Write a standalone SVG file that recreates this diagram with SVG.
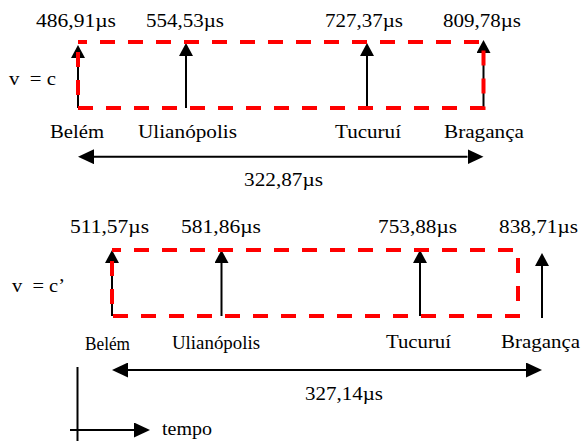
<svg xmlns="http://www.w3.org/2000/svg" width="582" height="441" viewBox="0 0 582 441">
  <defs>
    <style>
      text { font-family: "Liberation Serif", "Times New Roman", serif; font-size: 18px; fill: #000; }
      .shaft { stroke: #000; stroke-width: 2; fill: none; }
      .up { marker-end: url(#headV); }
      .span { marker-start: url(#headH); marker-end: url(#headH); }
      .axis { stroke: #000; stroke-width: 2; fill: none; }
      .frame { fill: none; stroke: #ff0000; stroke-width: 4; stroke-dasharray: 15 13; }
    </style>
    <marker id="headV" viewBox="0 0 13 14" markerWidth="13" markerHeight="14" refX="0" refY="7" orient="auto" markerUnits="userSpaceOnUse">
      <path d="M0,0 L13,7 L0,14 z" fill="#000"/>
    </marker>
    <marker id="headH" viewBox="0 0 16 15" markerWidth="16" markerHeight="15" refX="0" refY="7.5" orient="auto-start-reverse" markerUnits="userSpaceOnUse">
      <path d="M0,0 L16,7.5 L0,15 z" fill="#000"/>
    </marker>
  </defs>

  <rect width="582" height="441" fill="#fff"/>

  <!-- v = c -->
  <g id="speed-c">
    <text x="9" y="85" xml:space="preserve" textLength="47" lengthAdjust="spacingAndGlyphs">v  = c</text>
  </g>
  <g id="c-belem">
    <line class="shaft up" x1="78" y1="108" x2="78" y2="58"/>
    <text x="36" y="27" textLength="80" lengthAdjust="spacingAndGlyphs">486,91µs</text>
    <text x="50" y="138" textLength="54" lengthAdjust="spacingAndGlyphs">Belém</text>
  </g>
  <g id="c-ulianopolis">
    <line class="shaft up" x1="186" y1="108" x2="186" y2="56"/>
    <text x="146" y="27" textLength="78" lengthAdjust="spacingAndGlyphs">554,53µs</text>
    <text x="138" y="138" textLength="99" lengthAdjust="spacingAndGlyphs">Ulianópolis</text>
  </g>
  <g id="c-tucurui">
    <line class="shaft up" x1="367" y1="108" x2="367" y2="56"/>
    <text x="325" y="27" textLength="78" lengthAdjust="spacingAndGlyphs">727,37µs</text>
    <text x="335" y="138" textLength="66" lengthAdjust="spacingAndGlyphs">Tucuruí</text>
  </g>
  <g id="c-braganca">
    <line class="shaft up" x1="483.5" y1="108" x2="483.5" y2="53"/>
    <text x="443" y="27" textLength="78" lengthAdjust="spacingAndGlyphs">809,78µs</text>
    <text x="444" y="138" textLength="80" lengthAdjust="spacingAndGlyphs">Bragança</text>
  </g>
  <g id="c-window">
    <path class="frame" stroke-dashoffset="6" d="M78,42 H483.5 V108 H78 Z"/>
  </g>

  <!-- v = c' -->
  <g id="speed-c2">
    <text x="12" y="292" xml:space="preserve" textLength="53" lengthAdjust="spacingAndGlyphs">v  = c’</text>
  </g>
  <g id="c2-belem">
    <line class="shaft up" x1="112" y1="316" x2="112" y2="263"/>
    <text x="70" y="233" textLength="79" lengthAdjust="spacingAndGlyphs">511,57µs</text>
    <text x="85" y="350" textLength="45" lengthAdjust="spacingAndGlyphs">Belém</text>
  </g>
  <g id="c2-ulianopolis">
    <line class="shaft up" x1="221.5" y1="316" x2="221.5" y2="263"/>
    <text x="181" y="233" textLength="80" lengthAdjust="spacingAndGlyphs">581,86µs</text>
    <text x="172" y="349" textLength="88" lengthAdjust="spacingAndGlyphs">Ulianópolis</text>
  </g>
  <g id="c2-tucurui">
    <line class="shaft up" x1="420" y1="316" x2="420" y2="263"/>
    <text x="378" y="233" textLength="79" lengthAdjust="spacingAndGlyphs">753,88µs</text>
    <text x="386" y="348" textLength="65" lengthAdjust="spacingAndGlyphs">Tucuruí</text>
  </g>
  <g id="c2-braganca">
    <line class="shaft up" x1="542" y1="318" x2="542" y2="266"/>
    <text x="499" y="233" textLength="79" lengthAdjust="spacingAndGlyphs">838,71µs</text>
    <text x="501" y="348" textLength="79" lengthAdjust="spacingAndGlyphs">Bragança</text>
  </g>
  <g id="c2-window">
    <path class="frame" stroke-dashoffset="6" d="M112,250 H518 V316 H112 Z"/>
  </g>

  <!-- total durations -->
  <g id="connectors">
    <line class="shaft span" x1="94" y1="156.7" x2="467.5" y2="156.7"/>
    <line class="shaft span" x1="128" y1="370" x2="526" y2="370"/>
  </g>
  <g id="durations">
    <text x="244" y="186" textLength="79" lengthAdjust="spacingAndGlyphs">322,87µs</text>
    <text x="305" y="400" textLength="78" lengthAdjust="spacingAndGlyphs">327,14µs</text>
  </g>

  <!-- time axis -->
  <g id="time-axis">
    <line class="axis" x1="77.5" y1="367" x2="77.5" y2="441"/>
    <line class="axis" x1="70" y1="430" x2="134" y2="430" marker-end="url(#headH)"/>
    <text x="162" y="435" textLength="50" lengthAdjust="spacingAndGlyphs">tempo</text>
  </g>
</svg>
